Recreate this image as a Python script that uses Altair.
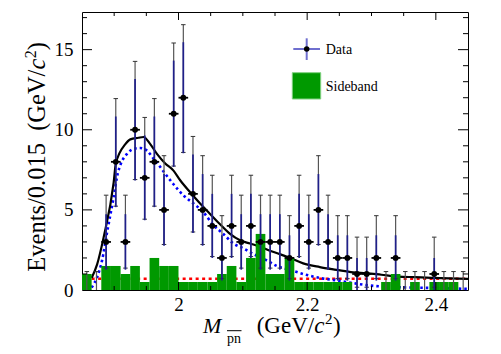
import altair as alt
import pandas as pd
import numpy as np

# ---------------- data ----------------
bin_centers = [1.8575, 1.8725, 1.8875, 1.9025, 1.9175, 1.9325, 1.9475, 1.9625, 1.9775, 1.9925,
               2.0075, 2.0225, 2.0375, 2.0525, 2.0675, 2.0825, 2.0975, 2.1125, 2.1275, 2.1425,
               2.1575, 2.1725, 2.1875, 2.2025, 2.2175, 2.2325, 2.2475, 2.2625, 2.2775, 2.2925,
               2.3075, 2.3225, 2.3375, 2.3525, 2.3675, 2.3825, 2.3975, 2.4125, 2.4275, 2.4425]
half_width = 0.0075
counts = [0, 0, 3, 8, 3, 10, 7, 8, 5, 11, 12, 6, 5, 4, 2, 4, 3, 4, 3, 3,
          3, 2, 4, 3, 5, 3, 2, 2, 1, 1, 2, 0, 2, 0, 0, 0, 1, 0, 0, 0]
sideband = [1.0, 0.0, 1.5, 1.5, 1.0, 1.5, 0.5, 2.0, 1.5, 1.5, 0.5, 0.5, 0.5, 0.5, 1.0, 1.5, 0.5, 2.0, 3.5, 1.0,
            1.0, 2.0, 0.5, 0.5, 0.5, 0.5, 0.5, 0.5, 0.0, 0.0, 0.0, 0.5, 1.0, 0.0, 0.5, 0.0, 0.5, 0.5, 0.5, 0.0]
# asymmetric (Poisson) error sizes per count
pois_lo = {0: 0.0, 1: 0.827, 2: 1.292, 3: 1.633, 4: 1.914, 5: 2.159, 6: 2.379, 7: 2.581, 8: 2.768,
           10: 3.108, 11: 3.265, 12: 3.415}
pois_hi = {0: 1.15, 1: 2.299, 2: 2.638, 3: 2.918, 4: 3.162, 5: 3.382, 6: 3.583, 7: 3.770, 8: 3.945,
           10: 4.268, 11: 4.416, 12: 4.559}

total_m = [1.865, 1.8735, 1.8837, 1.8992, 1.9026, 1.9174, 1.9251, 1.9375, 1.9457, 1.9561, 1.9665,
           1.9794, 1.9922, 2.0026, 2.0181, 2.0336, 2.0491, 2.0646, 2.0801, 2.0957, 2.1112, 2.1267,
           2.1422, 2.1577, 2.1732, 2.1938, 2.2197, 2.2456, 2.2713, 2.2921, 2.3153, 2.3411, 2.3670,
           2.3929, 2.45]
total_y = [0.75, 1.6, 3.3, 6.7, 7.9, 9.1, 9.4, 9.5, 9.55, 9.1, 8.5,
           7.9, 7.45, 6.85, 6.1, 5.4, 4.75, 4.1, 3.5, 3.1, 2.9, 2.7,
           2.45, 2.24, 2.0, 1.66, 1.43, 1.26, 1.1, 1.05, 0.95, 0.84, 0.8,
           0.76, 0.7]

sig_m = [1.865, 1.8735, 1.8812, 1.889, 1.8992, 1.9057, 1.9096, 1.92, 1.9302, 1.9406, 1.951, 1.9612,
         1.9665, 1.9767, 1.9922, 2.0078, 2.0233, 2.0388, 2.0543, 2.0698, 2.0853, 2.1008, 2.1163,
         2.1371, 2.1526, 2.1732, 2.1938, 2.2197, 2.2456, 2.2713, 2.2972, 2.3386, 2.3798, 2.45]
sig_y = [0.15, 0.8, 1.85, 3.6, 5.8, 7.3, 7.8, 8.5, 8.8, 8.86, 8.7, 8.2,
         7.95, 7.4, 6.6, 5.9, 5.4, 4.85, 4.05, 3.5, 2.9, 2.6, 2.25,
         1.85, 1.5, 1.25, 1.0, 0.75, 0.6, 0.43, 0.28, 0.18, 0.14, 0.07]

bg_m = [1.865, 2.45]
bg_y = [0.7, 0.7]

x_labels = [2.0, 2.2, 2.4]
x_major = [2.0, 2.2, 2.4]
x_minor = [1.9, 1.95, 2.05, 2.1, 2.15, 2.25, 2.3, 2.35]
y_labels = [0, 5, 10, 15]
y_major = [5, 10, 15]
y_minor = [1, 2, 3, 4, 6, 7, 8, 9, 11, 12, 13, 14, 16, 17]

# ---------------- tables ----------------
W, H = 386, 278
SERIF = "Liberation Serif"
GREEN = "#009900"

c = np.array(bin_centers)
n = np.array(counts)
bins = pd.DataFrame({
    "m": c, "lo": c - half_width, "hi": c + half_width, "n": n, "sb": sideband,
    "zero": 0.0,
    "plo": [k - pois_lo[k] for k in counts],
    "phi": [k + pois_hi[k] for k in counts],
    "slo": n - np.sqrt(n), "shi": n + np.sqrt(n),
    "clo": c - 0.0035, "chi": c + 0.0035,
})
pts = bins[bins["n"] > 0]

xs = alt.Scale(domain=[1.85, 2.45], nice=False, zero=False)
ys = alt.Scale(domain=[0, 17.35], nice=False, zero=False)
xax = alt.Axis(values=x_labels, format="~g", ticks=False, domain=False, grid=False,
               labelFont=SERIF, labelFontSize=19, labelColor="black", labelPadding=5,
               title=None, labelFlush=False)
yax = alt.Axis(values=y_labels, ticks=False, domain=False, grid=False,
               labelFont=SERIF, labelFontSize=19, labelColor="black", labelPadding=9,
               title=None)


def X(f):
    return alt.X(f, type="quantitative", scale=xs, axis=xax)


def Y(f):
    return alt.Y(f, type="quantitative", scale=ys, axis=yax)


bg = alt.Chart(pd.DataFrame({"m": bg_m, "y": bg_y})).mark_line(
    color="#ff0000", strokeDash=[3, 3.5], strokeWidth=2.5).encode(x=X("m"), y=Y("y"))
sig = alt.Chart(pd.DataFrame({"m": sig_m, "y": sig_y})).mark_line(
    color="#0000ff", strokeDash=[2.5, 3], strokeWidth=2.6, interpolate="monotone").encode(x=X("m"), y=Y("y"))
tot = alt.Chart(pd.DataFrame({"m": total_m, "y": total_y})).mark_line(
    color="black", strokeWidth=2.2, interpolate="monotone").encode(x=X("m"), y=Y("y"))
sb = alt.Chart(bins).mark_rect(color=GREEN).encode(
    x=X("lo"), x2="hi", y=Y("sb"), y2="zero")

pbar = alt.Chart(bins).mark_rule(color="#555555", strokeWidth=1.2).encode(
    x=X("m"), y=Y("plo"), y2="phi")
cap_hi = alt.Chart(bins).mark_rule(color="#333333", strokeWidth=1).encode(
    x=X("clo"), x2="chi", y=Y("phi"))
cap_lo = alt.Chart(pts).mark_rule(color="#333333", strokeWidth=1).encode(
    x=X("clo"), x2="chi", y=Y("plo"))
sbar = alt.Chart(pts).mark_rule(color="#1f1f8a", strokeWidth=1.7).encode(
    x=X("m"), y=Y("slo"), y2="shi")
hbar = alt.Chart(pts).mark_rule(color="black", strokeWidth=1.8).encode(
    x=X("lo"), x2="hi", y=Y("n"))
dots = alt.Chart(pts).mark_circle(color="black", size=34, opacity=1).encode(
    x=X("m"), y=Y("n"))


def xticks(vals, length):
    d = pd.DataFrame({"t": vals})
    b = alt.Chart(d).mark_rule(color="black", strokeWidth=1).encode(
        x=X("t"), y=alt.value(H), y2=alt.value(H - length))
    t = alt.Chart(d).mark_rule(color="black", strokeWidth=1).encode(
        x=X("t"), y=alt.value(0), y2=alt.value(length))
    return [b, t]


def yticks(vals, length):
    d = pd.DataFrame({"t": vals})
    l = alt.Chart(d).mark_rule(color="black", strokeWidth=1).encode(
        y=Y("t"), x=alt.value(0), x2=alt.value(length))
    r = alt.Chart(d).mark_rule(color="black", strokeWidth=1).encode(
        y=Y("t"), x=alt.value(W), x2=alt.value(W - length))
    return [l, r]


one = pd.DataFrame({"a": [0]})


def label(txt, x, y, size, style="normal", angle=0, align="left", baseline="alphabetic"):
    kw = dict(font=SERIF, fontSize=size, fontStyle=style, align=align, baseline=baseline,
              color="black", text=txt)
    if angle:
        kw["angle"] = angle
    return alt.Chart(one).mark_text(**kw).encode(x=alt.value(x), y=alt.value(y))


# legend
leg = [
    alt.Chart(one).mark_rule(color="#6f6fcf", strokeWidth=2).encode(
        x=alt.value(211.3), x2=alt.value(238), y=alt.value(37)),
    alt.Chart(one).mark_rule(color="#6f6fcf", strokeWidth=2).encode(
        x=alt.value(224.7), y=alt.value(26.3), y2=alt.value(48)),
    alt.Chart(one).mark_circle(color="black", size=30, opacity=1).encode(
        x=alt.value(224.7), y=alt.value(37)),
    label("Data", 243.7, 41.5, 14),
    alt.Chart(one).mark_rect(color=GREEN, stroke="#80d080", strokeWidth=1).encode(
        x=alt.value(210.3), x2=alt.value(238.7), y=alt.value(60.7), y2=alt.value(87)),
    label("Sideband", 243.7, 78.5, 14),
]

# x title: M_{p̄n̄} (GeV/c²)
xt = [
    label("M", 121, 321.3, 22, style="italic"),
    label("pn", 145, 331.3, 14),
    alt.Chart(one).mark_rule(color="black", strokeWidth=1).encode(
        x=alt.value(145), x2=alt.value(159.5), y=alt.value(318.7)),
    label("(GeV/", 174.7, 321.3, 23),
    label("c", 232.2, 321.3, 23, style="italic"),
    label("2", 243, 312, 15),
    label(")", 251, 321.3, 23),
]

# y title: Events/0.015  (GeV/c²)  rotated
yfs = 24.5
y0 = 259.7
main_w = 8.249 * yfs
yt = [
    label("Events/0.015 \u00a0(GeV/", -37, y0, yfs, angle=270),
    label("c", -37, y0 - main_w, yfs, style="italic", angle=270),
    label("2", -46, y0 - main_w - 0.444 * yfs - 0.5, 16, angle=270),
    label(")", -37, y0 - main_w - 0.444 * yfs - 8.5, yfs, angle=270),
]

layers = [bg, sig, tot, sb, pbar, cap_hi, cap_lo, sbar, hbar, dots]
layers += xticks(x_major, 8) + xticks(x_minor, 4) + yticks(y_major, 10) + yticks(y_minor, 5)
layers += leg + xt + yt

chart = alt.layer(*layers).properties(
    width=W, height=H,
    autosize=alt.AutoSizeParams(type="none"),
    padding={"left": 82, "top": 12, "right": 33, "bottom": 64},
    background="white",
).configure_view(stroke="black", strokeWidth=1)

chart.save("out.html", embed_options={"renderer": "svg", "actions": False})
